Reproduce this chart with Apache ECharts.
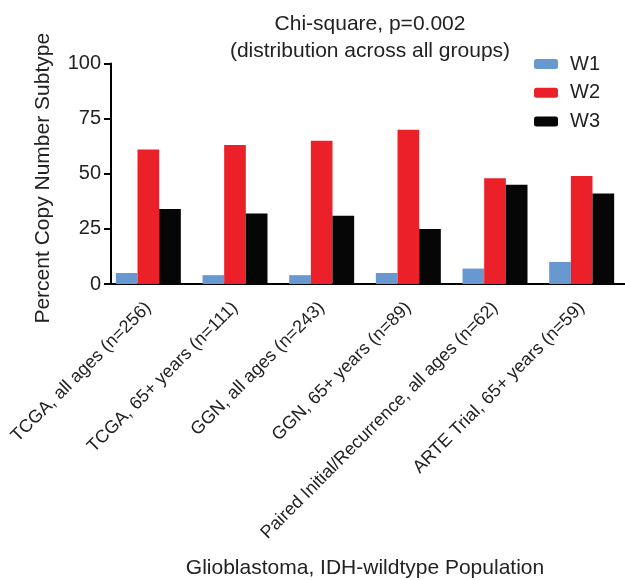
<!DOCTYPE html>
<html>
<head>
<meta charset="utf-8">
<script src="https://cdn.jsdelivr.net/npm/echarts@6/dist/echarts.min.js"></script>
<style>
html,body{margin:0;padding:0;background:#fff;}
#chart{width:625px;height:580px;}
</style>
</head>
<body>
<div id="chart"></div>
<script>
var categories = [
  "TCGA, all ages (n=256)",
  "TCGA, 65+ years (n=111)",
  "GGN, all ages (n=243)",
  "GGN, 65+ years (n=89)",
  "Paired Initial/Recurrence, all ages (n=62)",
  "ARTE Trial, 65+ years (n=59)"
];
var seriesNames = ["W1", "W2", "W3"];
var w1 = [5, 4, 4, 5, 7, 10];
var w2 = [61, 63, 65, 70, 48, 49];
var w3 = [34, 32, 31, 25, 45, 41];
var yTicks = [0, 25, 50, 75, 100];
var titleText = "Chi-square, p=0.002\n(distribution across all groups)";
var yTitle = "Percent Copy Number Subtype";
var xTitle = "Glioblastoma, IDH-wildtype Population";

var colors = ["#6798d0", "#ec2028", "#060606"];
var font = "Liberation Sans, Arial, Helvetica, sans-serif";
var txt = "#222222";

var chart = echarts.init(document.getElementById("chart"), null, {renderer: "canvas"});
var values = [w1, w2, w3];
chart.setOption({
  animation: false,
  backgroundColor: "#ffffff",
  title: {
    text: titleText,
    left: 365,
    top: 6,
    textAlign: "center",
    textStyle: {fontFamily: font, fontSize: 21, fontWeight: "normal", color: txt, lineHeight: 27}
  },
  legend: {
    data: seriesNames,
    orient: "vertical",
    left: 534,
    top: 54,
    padding: 0,
    itemWidth: 24,
    itemHeight: 10,
    itemGap: 8.7,
    textStyle: {fontFamily: font, fontSize: 20, color: txt, padding: [0, 0, 0, 7]},
    selectedMode: false
  },
  grid: {left: 105, top: 63.5, width: 530, height: 224.2, containLabel: false},
  xAxis: {
    type: "category",
    data: categories,
    axisLine: {lineStyle: {color: "#000", width: 2}},
    axisTick: {alignWithLabel: true, length: 6, lineStyle: {color: "#000", width: 2}},
    axisLabel: {rotate: 45, interval: 0, margin: 21, fontFamily: font, fontSize: 18, color: txt},
    name: xTitle,
    nameLocation: "middle",
    nameGap: 274,
    nameTextStyle: {fontFamily: font, fontSize: 21, color: txt}
  },
  yAxis: {
    type: "value",
    min: 0,
    max: 100,
    interval: 25,
    offset: -6,
    splitLine: {show: false},
    axisLine: {show: true, lineStyle: {color: "#000", width: 2}},
    axisTick: {show: true, length: 7, lineStyle: {color: "#000", width: 2}},
    axisLabel: {margin: 10, fontFamily: font, fontSize: 20, color: txt,
      formatter: function (v) { return yTicks.indexOf(v) >= 0 ? String(v) : ""; }},
    name: yTitle,
    nameLocation: "middle",
    nameRotate: 90,
    nameGap: 57,
    nameTextStyle: {fontFamily: font, fontSize: 21, color: txt, padding: [0, 9, 0, 0]}
  },
  series: seriesNames.map(function (n, i) {
    return {
      name: n,
      type: "bar",
      data: values[i],
      barGap: "0%",
      barCategoryGap: "25%",
      itemStyle: {color: colors[i]}
    };
  })
});
</script>
</body>
</html>
